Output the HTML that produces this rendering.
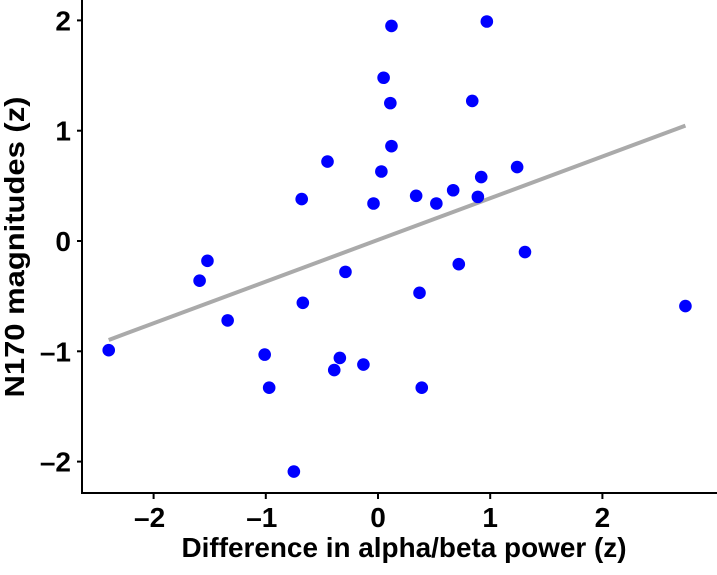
<!DOCTYPE html>
<html><head><meta charset="utf-8"><style>
body{margin:0;background:#fff}
svg text{font-family:"Liberation Sans",sans-serif;font-weight:bold;fill:#000}
</style></head><body>
<svg width="717" height="570" xmlns="http://www.w3.org/2000/svg">
<g id="plot"></g>
<line x1="82" y1="0" x2="82" y2="494" stroke="#000" stroke-width="2"/>
<line x1="81" y1="493" x2="717" y2="493" stroke="#000" stroke-width="2"/>
<g id="ticks"></g>
<text x="404" y="557" font-size="28" text-anchor="middle" textLength="445" lengthAdjust="spacingAndGlyphs">Difference in alpha/beta power (z)</text>
<text transform="translate(24,247) rotate(-90)" font-size="28" text-anchor="middle" textLength="301" lengthAdjust="spacingAndGlyphs">N170 magnitudes (z)</text>
</svg>
<script>
const xs=[-2.40,-1.59,-1.52,-1.34,-1.01,-0.97,-0.68,-0.67,-0.75,-0.45,-0.29,-0.34,-0.39,-0.13,-0.04,0.03,0.05,0.11,0.12,0.12,0.34,0.52,0.67,0.92,0.89,1.24,0.72,0.37,1.31,0.39,0.84,0.97,2.74];
const ys=[-0.99,-0.36,-0.18,-0.72,-1.03,-1.33,0.38,-0.56,-2.09,0.72,-0.28,-1.06,-1.17,-1.12,0.34,0.63,1.48,1.25,0.86,1.95,0.41,0.34,0.46,0.58,0.40,0.67,-0.21,-0.47,-0.10,-1.33,1.27,1.99,-0.59];
const xTicks=[-2,-1,0,1,2];
const yTicks=[-2,-1,0,1,2];
const fitIntercept=0.01, fitSlope=0.378;
const X=v=>378+v*112.2, Y=v=>241-v*110.3;
const ns='http://www.w3.org/2000/svg';
const plot=document.getElementById('plot'), tk=document.getElementById('ticks');
function mk(p,t,a){const e=document.createElementNS(ns,t);for(const k in a)e.setAttribute(k,a[k]);p.appendChild(e);return e;}
const x0=Math.min(...xs), x1=Math.max(...xs);
const ln=mk(plot,'line',{x1:X(x0),y1:Y(fitIntercept+fitSlope*x0),x2:X(x1),y2:Y(fitIntercept+fitSlope*x1),stroke:'#aaaaaa','stroke-width':4});


xs.forEach((v,i)=>{const c=mk(plot,'circle',{cx:X(v),cy:Y(ys[i]),r:6.3,fill:'#0000ff'});

});
xTicks.forEach(v=>{const l=mk(tk,'line',{x1:X(v),x2:X(v),y1:494,y2:499,stroke:'#000','stroke-width':2});


const t=mk(tk,'text',{x:X(v)-(v<0?4:0),y:527,'font-size':28,'text-anchor':'middle'});t.textContent=(v<0?'\u2013':'')+Math.abs(v);

});
yTicks.forEach(v=>{const l=mk(tk,'line',{x1:77,x2:82,y1:Y(v),y2:Y(v),stroke:'#000','stroke-width':2});


const t=mk(tk,'text',{x:71,y:Y(v)+10,'font-size':28,'text-anchor':'end'});t.textContent=(v<0?'\u2013':'')+Math.abs(v);

});
</script>
</body></html>
